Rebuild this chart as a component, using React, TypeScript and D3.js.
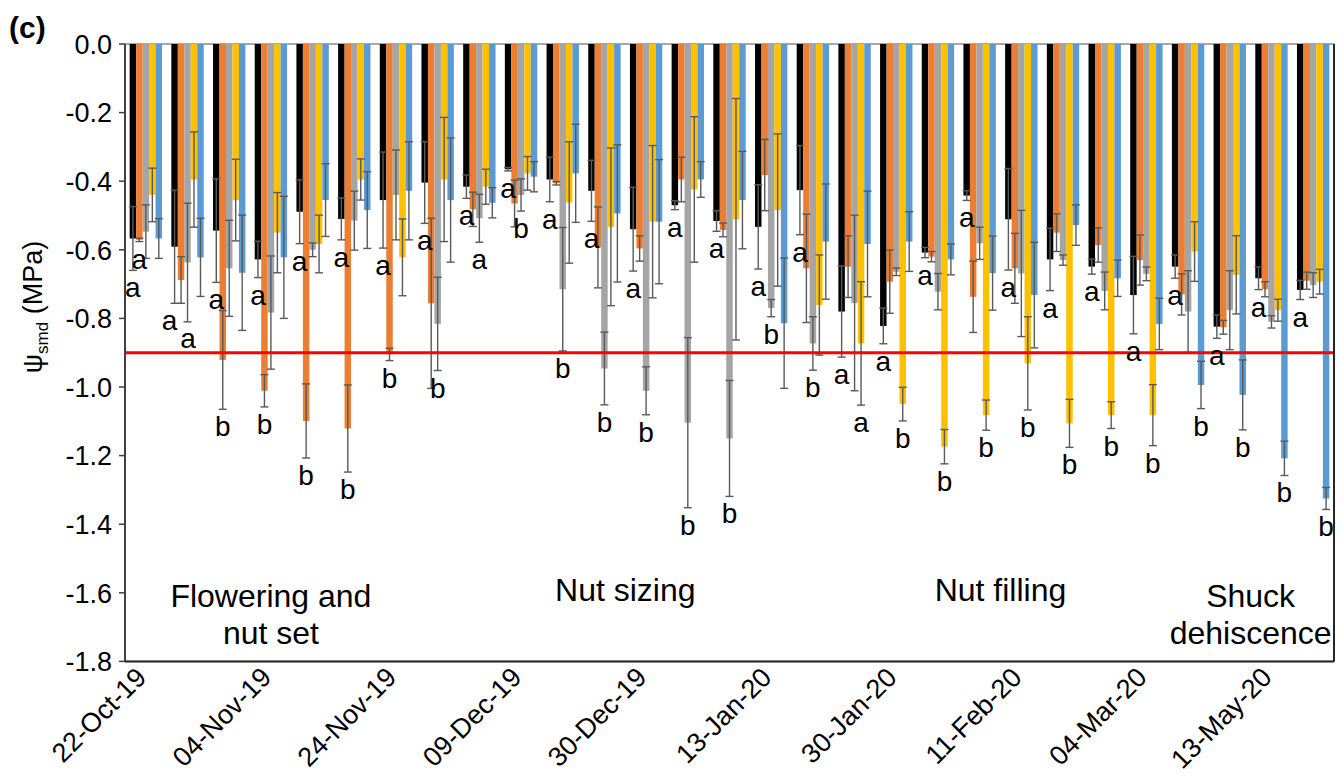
import * as d3 from 'd3'

// category tick labels (Excel shows every 3rd date only)
const dates = [
  '22-Oct-19', '', '', '04-Nov-19', '', '', '24-Nov-19', '', '', '09-Dec-19',
  '', '', '30-Dec-19', '', '', '13-Jan-20', '', '', '30-Jan-20', '', '',
  '11-Feb-20', '', '', '04-Mar-20', '', '', '13-May-20', '',
]

const seriesColors = ['#000000', '#ED7D31', '#A5A5A5', '#FFC000', '#5B9BD5']

const black = [-0.567, -0.591, -0.544, -0.628, -0.489, -0.51, -0.455, -0.404, -0.416, -0.365, -0.395, -0.428, -0.54, -0.47, -0.516, -0.533, -0.426, -0.78, -0.822, -0.608, -0.442, -0.511, -0.628, -0.649, -0.732, -0.649, -0.824, -0.683, -0.717]
const blackErr = [0.093, 0.165, 0.151, 0.053, 0.093, 0.061, 0.14, 0.119, 0.034, 0.005, 0.065, 0.089, 0.122, 0.013, 0.03, 0.123, 0.13, 0.133, 0.052, 0.015, 0.014, 0.148, 0.091, 0.022, 0.113, 0.034, 0.034, 0.033, 0.028]

const orange = [-0.571, -0.688, -0.921, -1.011, -1.099, -1.121, -0.905, -0.756, -0.482, -0.465, -0.406, -0.593, -0.596, -0.395, -0.542, -0.382, -0.654, -0.649, -0.693, -0.62, -0.737, -0.654, -0.55, -0.586, -0.63, -0.73, -0.826, -0.715, -0.69]
const orangeErr = [0.005, 0.068, 0.144, 0.047, 0.108, 0.127, 0.018, 0.248, 0.05, 0.068, 0.005, 0.118, 0.037, 0.065, 0.02, 0.104, 0.158, 0.09, 0.092, 0.015, 0.104, 0.102, 0.055, 0.05, 0.073, 0.06, 0.02, 0.022, 0.025]

const grey = [-0.547, -0.637, -0.654, -0.783, -0.6, -0.515, -0.44, -0.816, -0.508, -0.44, -0.715, -0.946, -1.011, -1.104, -1.15, -0.77, -0.873, -0.755, -0.664, -0.722, -0.581, -0.669, -0.63, -0.72, -0.67, -0.78, -0.776, -0.81, -0.703]
const greyErr = [0.078, 0.173, 0.14, 0.165, 0.02, 0.086, 0.131, 0.136, 0.07, 0.047, 0.18, 0.106, 0.07, 0.248, 0.169, 0.025, 0.078, 0.256, 0.011, 0.053, 0.047, 0.184, 0.015, 0.055, 0.02, 0.119, 0.115, 0.018, 0.036]

const yellow = [-0.44, -0.395, -0.455, -0.55, -0.583, -0.395, -0.622, -0.395, -0.416, -0.377, -0.462, -0.533, -0.518, -0.424, -0.511, -0.484, -0.761, -0.873, -1.05, -1.174, -1.082, -0.931, -1.106, -1.082, -1.082, -0.605, -0.673, -0.776, -0.693]
const yellowErr = [0.078, 0.139, 0.119, 0.117, 0.084, 0.06, 0.112, 0.181, 0.051, 0.049, 0.177, 0.23, 0.222, 0.212, 0.352, 0.222, 0.146, 0.18, 0.049, 0.05, 0.044, 0.136, 0.07, 0.039, 0.089, 0.087, 0.114, 0.032, 0.036]

const blue = [-0.567, -0.622, -0.667, -0.622, -0.455, -0.484, -0.428, -0.455, -0.463, -0.387, -0.377, -0.494, -0.518, -0.395, -0.455, -0.814, -0.576, -0.583, -0.576, -0.628, -0.668, -0.732, -0.528, -0.683, -0.816, -0.994, -1.023, -1.208, -1.325]
const blueErr = [0.058, 0.114, 0.168, 0.178, 0.106, 0.112, 0.143, 0.181, 0.044, 0.044, 0.143, 0.2, 0.181, 0.052, 0.142, 0.19, 0.168, 0.154, 0.087, 0.045, 0.108, 0.154, 0.059, 0.053, 0.075, 0.069, 0.102, 0.05, 0.032]

// significance letters: control (black) vs. the deficit series of each phase
const controlLetters = Array(29).fill('a')
const treatLetters = ['a', 'a', 'b', 'b', 'b', 'b', 'b', 'b', 'a', 'b', 'b', 'b', 'b', 'b', 'b', 'b', 'b', 'a', 'b', 'b', 'b', 'b', 'b', 'b', 'b', 'b', 'b', 'b', 'b']

const phaseNames = [['Flowering and', 'nut set'], ['Nut sizing'], ['Nut filling'], ['Shuck', 'dehiscence']]
const phaseSizes = [7, 10, 8, 4]
const phaseSeries = [1, 2, 3, 4]

const yTicks = [0, -0.2, -0.4, -0.6, -0.8, -1.0, -1.2, -1.4, -1.6, -1.8]
const threshold = -0.9

const values = [black, orange, grey, yellow, blue]
const errors = [blackErr, orangeErr, greyErr, yellowErr, blueErr]

const font = '"Liberation Sans", Arial, sans-serif'

export default function App() {
  const left = 125, right = 1334, top = 44, bottom = 661.4

  const x0 = d3.scaleBand<number>().domain(d3.range(dates.length)).range([left, right])
  const x1 = d3.scaleBand<number>().domain(d3.range(5)).range([0, x0.bandwidth()]).paddingOuter(0.72)
  const y = d3.scaleLinear().domain([-1.8, 0]).range([bottom, top])

  const phaseStart = d3.cumsum([0, ...phaseSizes])
  const phaseOf = (i: number) => phaseStart.findIndex((s, k) => i >= s && i < phaseStart[k + 1])

  const bw = x1.bandwidth()
  const cx = (i: number, s: number) => (x0(i) as number) + (x1(s) as number) + bw / 2

  // letter positions: just under the lower error cap; push apart when they collide
  const letters = dates.map((_, i) => {
    const t = phaseSeries[phaseOf(i)]
    const a = { x: cx(i, 0), y: y(black[i] - blackErr[i]) + 27 }
    const b = { x: cx(i, t), y: y(values[t][i] - errors[t][i]) + 27 }
    if (Math.abs(a.x - b.x) < 16 && Math.abs(a.y - b.y) < 20) {
      a.x -= 5
      b.x += 7
      b.y = Math.max(a.y, b.y) + 18
    }
    return { a, b }
  })

  return (
    <div style={{ position: 'absolute', left: 0, top: 0 }}>
      <svg width={1341} height={778} style={{ display: 'block', fontFamily: font }}>
        <rect width={1341} height={778} fill="#fff" />

        {/* plot frame */}
        <rect x={left} y={top} width={right - left} height={bottom - top} fill="none" stroke="#8c8c8c" strokeWidth={1.5} />

        {/* bars */}
        {values.map((vals, s) => (
          <g key={s} fill={seriesColors[s]}>
            {vals.map((v, i) => (
              <rect key={i} x={(x0(i) as number) + (x1(s) as number)} y={y(0)} width={bw} height={y(v) - y(0)} />
            ))}
          </g>
        ))}

        {/* error bars */}
        <g stroke="#595959" strokeWidth={1.4}>
          {values.map((vals, s) =>
            vals.map((v, i) => {
              const e = errors[s][i]
              const c = cx(i, s)
              return (
                <g key={`${s}-${i}`}>
                  <line x1={c} x2={c} y1={y(v + e)} y2={y(v - e)} />
                  <line x1={c - 4} x2={c + 4} y1={y(v + e)} y2={y(v + e)} />
                  <line x1={c - 4} x2={c + 4} y1={y(v - e)} y2={y(v - e)} />
                </g>
              )
            })
          )}
        </g>

        {/* threshold */}
        <line x1={left} x2={right} y1={y(threshold)} y2={y(threshold)} stroke="#FF0000" strokeWidth={3} />

        {/* phase dividers */}
        {phaseStart.slice(1, -1).map((s) => (
          <line key={s} x1={x0(s)} x2={x0(s)} y1={top} y2={bottom} stroke="#000" strokeWidth={3} />
        ))}

        {/* axes */}
        <line x1={left} x2={left} y1={top} y2={bottom} stroke="#404040" strokeWidth={2} />
        <line x1={left} x2={right} y1={bottom} y2={bottom} stroke="#262626" strokeWidth={2} />
        <line x1={right} x2={right} y1={top} y2={bottom} stroke="#262626" strokeWidth={2} />
        {yTicks.map((t) => (
          <g key={t}>
            <line x1={left - 6} x2={left} y1={y(t)} y2={y(t)} stroke="#404040" strokeWidth={1.5} />
            <text x={112} y={y(t)} dy="0.36em" textAnchor="end" fontSize={27} fill="#000">
              {t.toFixed(1)}
            </text>
          </g>
        ))}

        {/* significance letters */}
        <g fontSize={28} fill="#000" textAnchor="middle">
          {letters.map((p, i) => (
            <g key={i}>
              <text x={p.a.x} y={p.a.y}>{controlLetters[i]}</text>
              <text x={p.b.x} y={p.b.y}>{treatLetters[i]}</text>
            </g>
          ))}
        </g>

        {/* phase labels */}
        <g fontSize={32} fill="#000" textAnchor="middle">
          {phaseNames.map((lines, k) => {
            const mid = ((x0(phaseStart[k]) as number) + (k === phaseNames.length - 1 ? right : (x0(phaseStart[k + 1]) as number))) / 2
            const y0 = lines.length === 1 ? 601 : 607
            return (
              <text key={k} x={mid} y={y0}>
                {lines.map((l, j) => (
                  <tspan key={j} x={mid} dy={j === 0 ? 0 : 37}>{l}</tspan>
                ))}
              </text>
            )
          })}
        </g>

        {/* x labels */}
        <g fontSize={27} fill="#000" textAnchor="end">
          {dates.map((d, i) =>
            d ? (
              <text key={i} transform={`translate(${(x0(i) as number) + x0.bandwidth() / 2 + 2},${679}) rotate(-45)`}>{d}</text>
            ) : null
          )}
        </g>

        {/* y title */}
        <text transform="translate(42,307) rotate(-90)" textAnchor="middle" fontSize={27} fill="#000">
          ψ<tspan fontSize={17} dy={6}>smd</tspan><tspan dy={-6}> (MPa)</tspan>
        </text>

        <text x={9} y={38} fontSize={30} fontWeight="bold" fill="#000">(c)</text>
      </svg>
    </div>
  )
}
